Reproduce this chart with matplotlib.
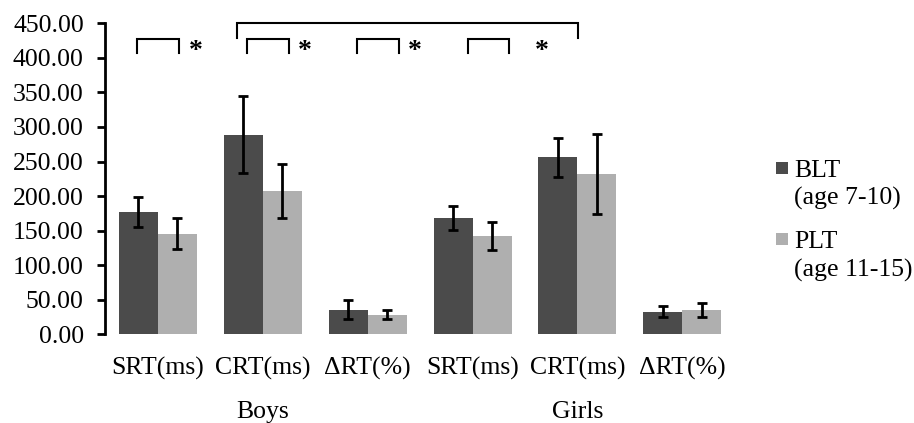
import matplotlib
matplotlib.use("Agg")
import matplotlib.pyplot as plt
import numpy as np
from matplotlib.patches import Rectangle
from matplotlib.transforms import blended_transform_factory

categories = ["SRT(ms)", "CRT(ms)", "ΔRT(%)", "SRT(ms)", "CRT(ms)", "ΔRT(%)"]
groups = ["Boys", "Girls"]
series_names = ["BLT\n(age 7-10)", "PLT\n(age 11-15)"]
blt_values = [176.5, 289.0, 35.6, 168.5, 256.0, 32.7]
blt_errors = [21.7, 55.5, 14.0, 17.0, 28.5, 7.8]
plt_values = [145.8, 207.5, 28.4, 142.5, 231.5, 35.2]
plt_errors = [22.5, 39.0, 6.3, 20.0, 57.7, 9.7]
yticks = [0, 50, 100, 150, 200, 250, 300, 350, 400, 450]

dark = "#4b4b4b"
light = "#afafaf"
font = "Liberation Serif"
plt.rcParams["font.family"] = [font, "DejaVu Serif"]

fig = plt.figure(figsize=(9.14, 4.23), dpi=100)
ax = fig.add_axes([0.1152, 0.2097, 0.804 - 0.1152, 0.945 - 0.2097])

x = np.arange(len(categories))
w = 39 / 105
ekw = dict(ecolor="black", elinewidth=2.0, capsize=3.5, capthick=2.0)
ax.bar(x - w / 2, blt_values, w, color=dark, yerr=blt_errors, error_kw=ekw, zorder=2)
ax.bar(x + w / 2, plt_values, w, color=light, yerr=plt_errors, error_kw=ekw, zorder=2)

ax.set_xlim(-0.5, 5.5)
ax.set_ylim(0, 450)
ax.set_yticks(yticks)
ax.set_yticklabels([f"{v:.2f}" for v in yticks])
ax.set_xticks(x)
ax.set_xticklabels(categories)
for s in ["top", "right", "bottom"]:
    ax.spines[s].set_visible(False)
ax.spines["left"].set_linewidth(2)
ax.tick_params(axis="y", length=5.5, width=2, pad=10, labelsize=18.5)
ax.tick_params(axis="x", length=0, pad=16, labelsize=18.5)

trans = blended_transform_factory(ax.transData, ax.transAxes)
for gi, g in enumerate(groups):
    ax.text(1 + 3 * gi, -0.25, g, transform=trans, ha="center", va="center", fontsize=18.5)

# significance brackets
def bracket(x0, x1, ytop, ybot):
    ax.plot([x0, x0, x1, x1], [ybot, ytop, ytop, ybot], color="black", lw=1.5,
            clip_on=False, solid_joinstyle="miter")

for (x0, x1, xs) in [(-0.2, 0.207, 0.36), (0.848, 1.25, 1.397), (1.899, 2.302, 2.454), (2.956, 3.352, 3.661)]:
    bracket(x0, x1, 427.4, 406.7)
    ax.text(xs, 408.5, "*", ha="center", va="center", fontsize=20, fontweight="bold")
bracket(0.759, 4.004, 450.9, 429.2)

# legend
H = 423.0
W = 914.0
for (yc, col, lines, bases) in [(168, dark, ["BLT", "(age 7-10)"], [176.5, 204.5]),
                               (239, light, ["PLT", "(age 11-15)"], [248.3, 276.7])]:
    fig.add_artist(Rectangle(((776) / W, (H - yc - 6) / H), 12 / W, 12 / H,
                             transform=fig.transFigure, color=col, lw=0))
    for t, b in zip(lines, bases):
        fig.text(794 / W, (H - b) / H, t, ha="left", va="baseline", fontsize=18.5)

fig.savefig("out.png", dpi=100)
